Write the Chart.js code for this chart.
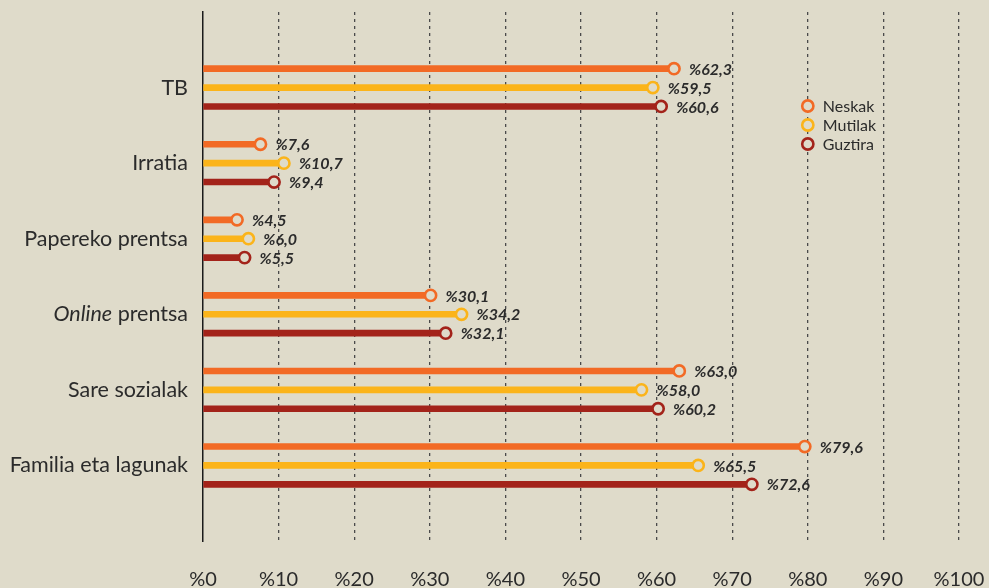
<!DOCTYPE html>
<html>
<head>
<meta charset="utf-8">
<script src="https://cdn.jsdelivr.net/npm/chart.js@4/dist/chart.umd.min.js"></script>
<style>
  html, body { margin: 0; padding: 0; background: #dfdbca; }
  canvas { display: block; }
</style>
</head>
<body>
<canvas id="grafikoa" width="989" height="588"></canvas>
<script>
// Datuak
const kategoriak = ['TB', 'Irratia', 'Papereko prentsa', 'Online prentsa', 'Sare sozialak', 'Familia eta lagunak'];
const neskak = [62.3, 7.6, 4.5, 30.1, 63.0, 79.6];
const mutilak = [59.5, 10.7, 6.0, 34.2, 58.0, 65.5];
const guztira = [60.6, 9.4, 5.5, 32.1, 60.2, 72.6];
const xTikak = [0, 10, 20, 30, 40, 50, 60, 70, 80, 90, 100];

const atzekoa = '#dfdbca';
const testuKolorea = '#2b2b2b';

const serieak = [
    { izena: 'Neskak', balioak: neskak, kolorea: '#f26a25', desplazamendua: -0.25 },
    { izena: 'Mutilak', balioak: mutilak, kolorea: '#fbb41a', desplazamendua: 0 },
    { izena: 'Guztira', balioak: guztira, kolorea: '#a3231a', desplazamendua: 0.25 }
];

// Barrak (zurtoinak) eta puntuak
let datasets = [];
serieak.forEach(function (s) {
    let puntuak = s.balioak.map(function (v, i) {
        return { x: v, y: i + s.desplazamendua };
    });
    datasets.push({
        type: 'bar',
        label: s.izena,
        indexAxis: 'y',
        data: puntuak,
        backgroundColor: s.kolorea,
        borderWidth: 0,
        barThickness: 6,
        grouped: false,
        order: 2
    });
    datasets.push({
        type: 'scatter',
        label: s.izena + '_puntua',
        data: puntuak,
        pointRadius: 5.6,
        pointHoverRadius: 5.6,
        borderWidth: 2.6,
        borderColor: s.kolorea,
        backgroundColor: atzekoa,
        order: 1
    });
});

function formatua(v) {
    return '%' + v.toFixed(1).replace('.', ',');
}

// Atzeko kolorea
const atzekoPlugina = {
    id: 'atzekoa',
    beforeDraw: function (chart) {
        const ctx = chart.ctx;
        ctx.save();
        ctx.fillStyle = atzekoa;
        ctx.fillRect(0, 0, chart.width, chart.height);
        ctx.restore();
    }
};

// Kategorien etiketak (Online letra etzanez)
const etiketaPlugina = {
    id: 'etiketak',
    afterDraw: function (chart) {
        const ctx = chart.ctx;
        const y = chart.scales.y;
        const xEskuin = chart.chartArea.left - 15;
        ctx.save();
        ctx.fillStyle = testuKolorea;
        ctx.textBaseline = 'middle';
        kategoriak.forEach(function (k, i) {
            const py = y.getPixelForValue(i);
            ctx.textAlign = 'right';
            if (k.indexOf('Online') === 0) {
                ctx.font = '21.5px Lato';
                const gainerakoa = k.substring(6);
                const w2 = ctx.measureText(gainerakoa).width;
                ctx.fillText(gainerakoa, xEskuin, py);
                ctx.font = 'italic 21.5px Lato';
                ctx.fillText('Online', xEskuin - w2, py);
            } else {
                ctx.font = '21.5px Lato';
                ctx.fillText(k, xEskuin, py);
            }
        });

        // Balioen etiketak
        ctx.font = 'italic bold 16px Lato';
        ctx.textAlign = 'left';
        chart.data.datasets.forEach(function (ds, di) {
            if (ds.type !== 'scatter') return;
            const meta = chart.getDatasetMeta(di);
            meta.data.forEach(function (el, i) {
                ctx.fillText(formatua(ds.data[i].x), el.x + 15, el.y + 1);
            });
        });

        // Legenda
        const lx = chart.scales.x.getPixelForValue(80);
        ctx.font = '16px Lato';
        serieak.forEach(function (s, i) {
            const ly = 106 + i * 19;
            ctx.beginPath();
            ctx.arc(lx, ly, 5.6, 0, Math.PI * 2);
            ctx.fillStyle = atzekoa;
            ctx.fill();
            ctx.lineWidth = 2.6;
            ctx.strokeStyle = s.kolorea;
            ctx.stroke();
            ctx.fillStyle = testuKolorea;
            ctx.fillText(s.izena, lx + 15, ly + 1);
        });
        ctx.restore();
    }
};

const config = {
    data: { datasets: datasets },
    options: {
        responsive: false,
        animation: false,
        layout: { padding: { top: 12, right: 30, left: 0, bottom: 0 } },
        plugins: {
            legend: { display: false },
            tooltip: { enabled: false }
        },
        events: [],
        scales: {
            x: {
                type: 'linear',
                min: 0,
                max: 100,
                offset: false,
                afterBuildTicks: function (scale) {
                    scale.ticks = xTikak.map(function (v) { return { value: v }; });
                },
                afterFit: function (scale) {
                    scale.height = 47;
                    scale.paddingLeft = 0;
                    scale.paddingRight = 0;
                },
                ticks: {
                    padding: 27,
                    maxRotation: 0,
                    color: testuKolorea,
                    font: { family: 'Lato', size: 20 },
                    callback: function (v) { return '%' + v; }
                },
                grid: {
                    drawTicks: false,
                    offset: false,
                    lineWidth: 1.3,
                    color: function (c) {
                        return c.tick && c.tick.value === 0 ? 'rgba(0,0,0,0)' : '#4a4a4a';
                    }
                },
                border: { display: false, dash: [3, 4] }
            },
            y: {
                type: 'linear',
                reverse: true,
                min: -1,
                max: 6,
                offset: false,
                afterFit: function (scale) { scale.width = 203; },
                ticks: { display: false },
                grid: { display: false, offset: false },
                border: { display: true, color: '#1a1a1a', width: 1.5 }
            }
        }
    },
    plugins: [atzekoPlugina, etiketaPlugina]
};

new Chart(document.getElementById('grafikoa'), config);
</script>
</body>
</html>
